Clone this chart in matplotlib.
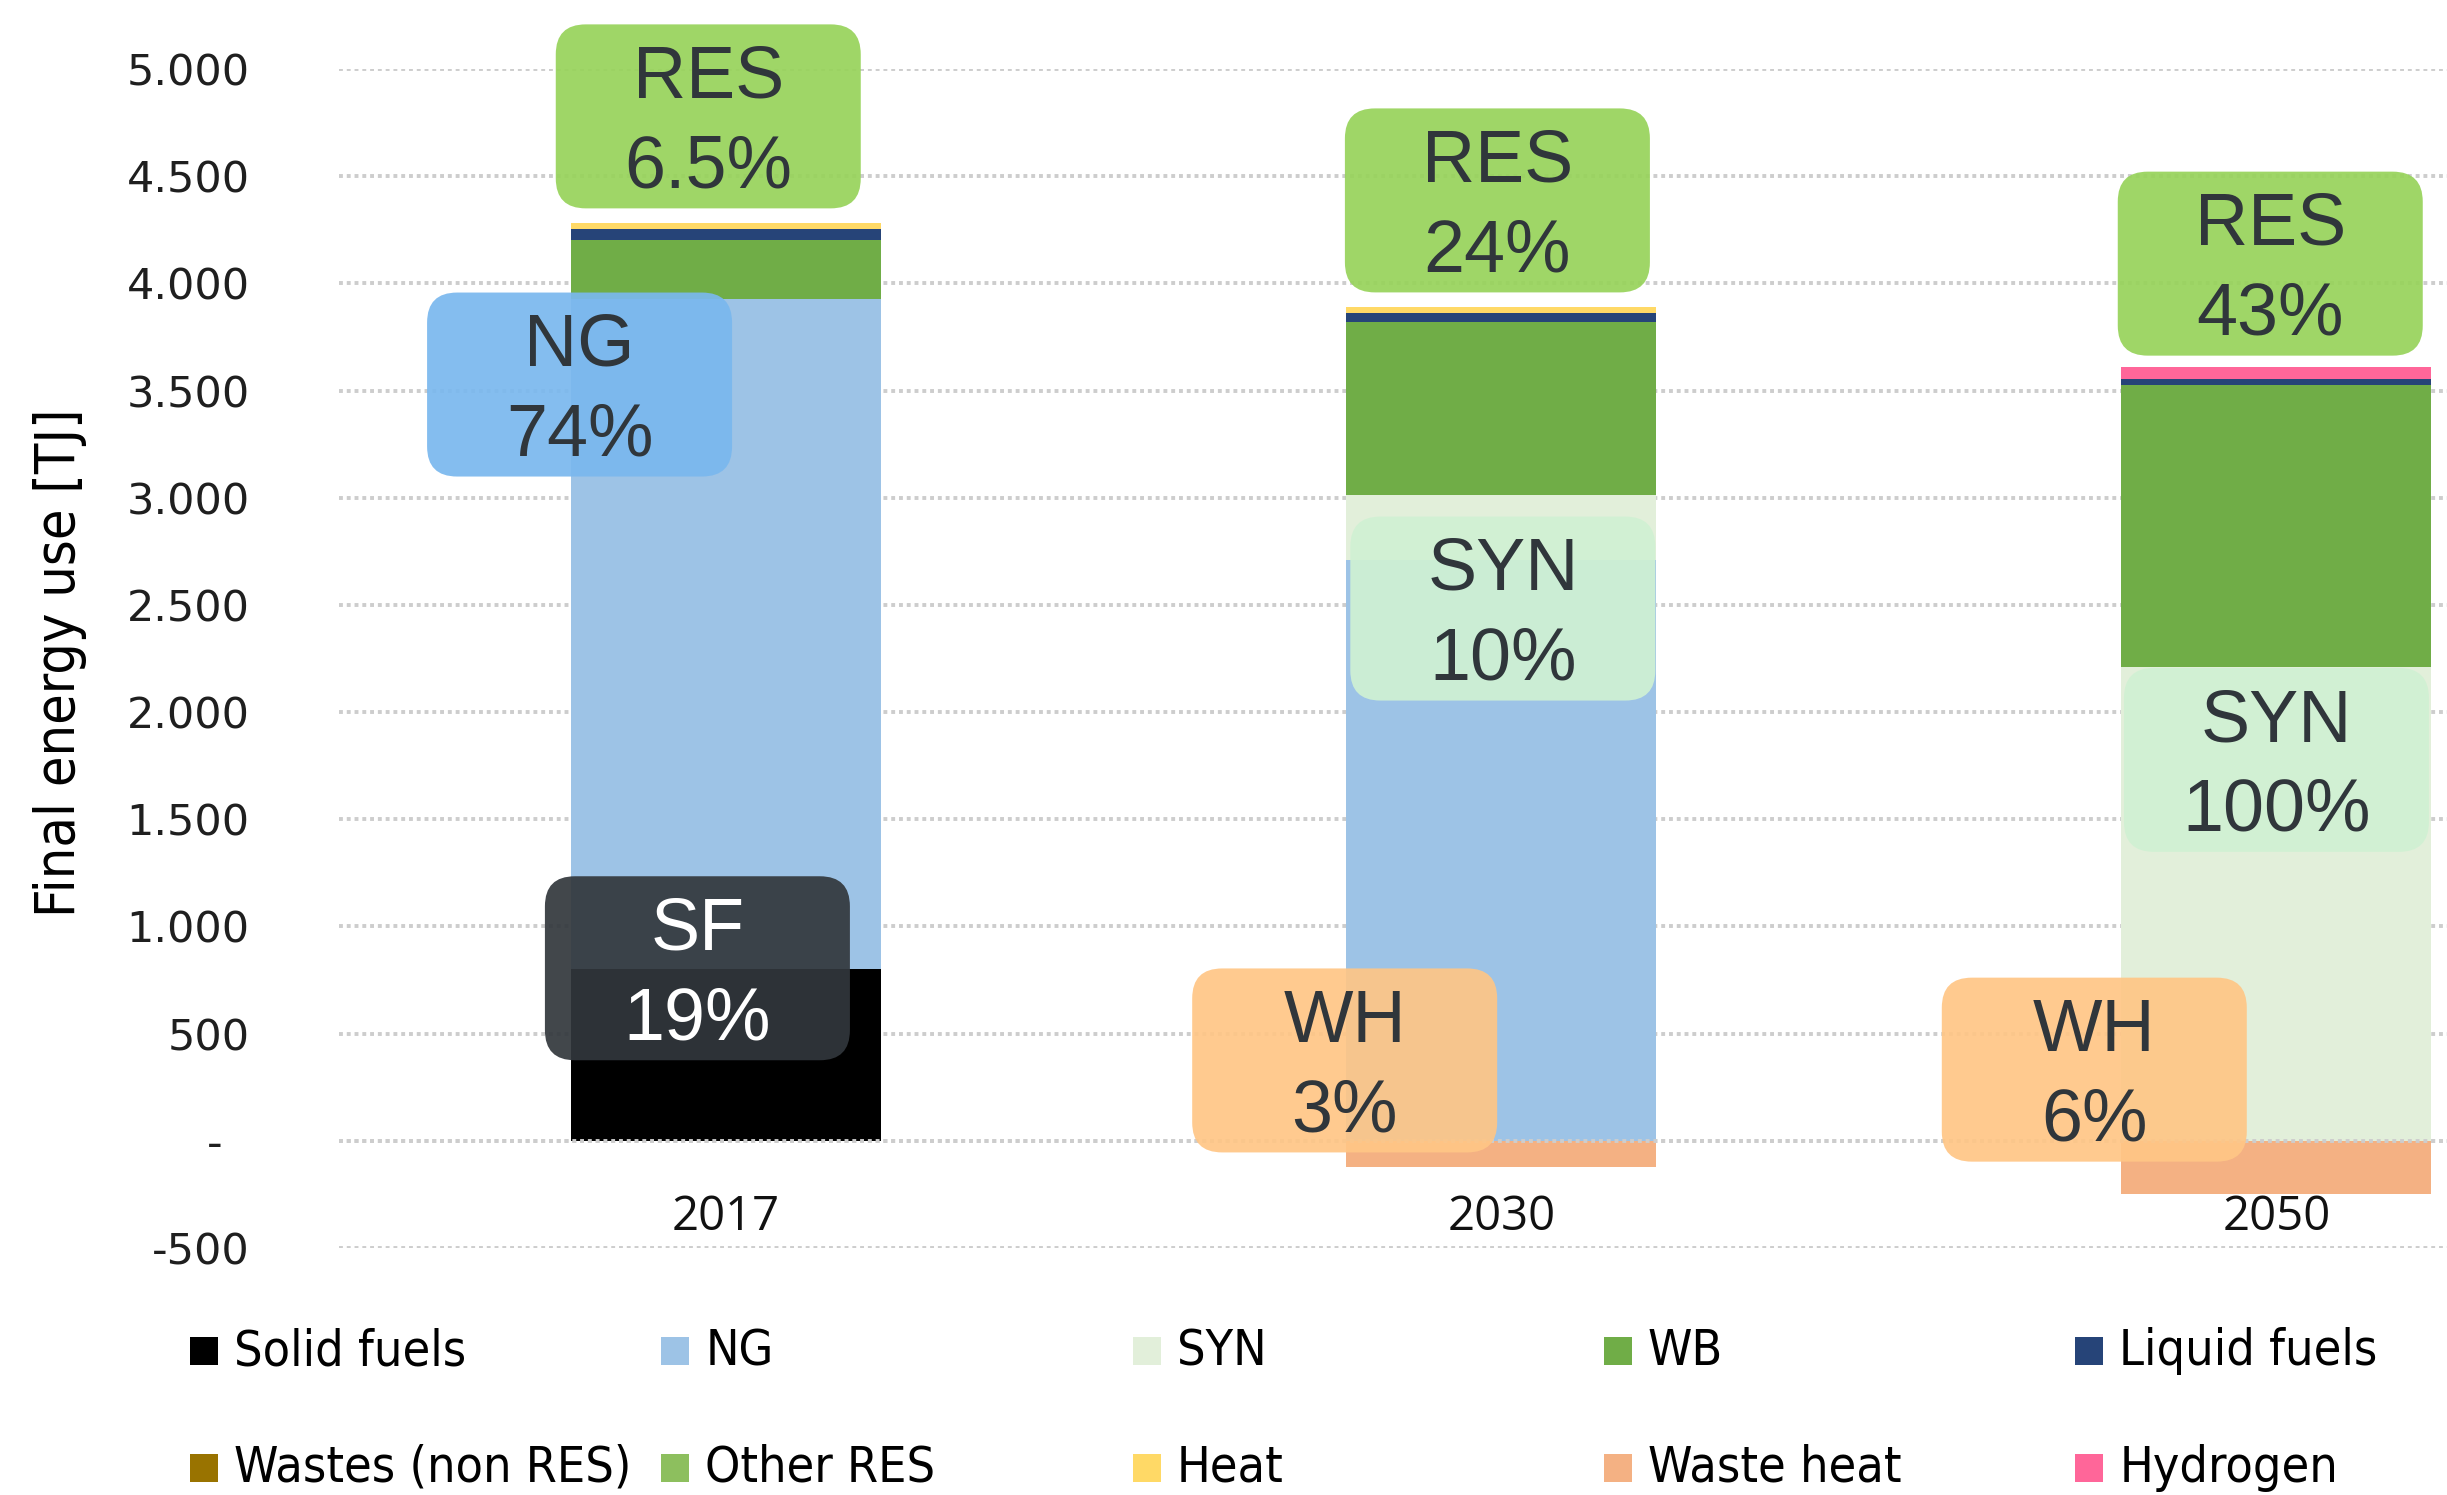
import matplotlib
matplotlib.use("Agg")
import matplotlib.pyplot as plt
from matplotlib.patches import FancyBboxPatch, Rectangle
import numpy as np

# categories
years = ["2017", "2030", "2050"]

# final energy use per carrier [TJ], stacked bottom -> top
solid_fuels = [800, 0, 0]
ng = [3127, 2711, 0]
syn = [0, 303, 2210]
wb = [275, 806, 1316]
liquid_fuels = [52, 42, 28]
wastes_non_res = [0, 0, 0]
other_res = [0, 0, 0]
heat = [28, 28, 0]
hydrogen = [0, 0, 56]
waste_heat = [0, -121, -247]   # plotted below zero

series_names = ["Solid fuels", "NG", "SYN", "WB", "Liquid fuels",
                "Wastes (non RES)", "Other RES", "Heat", "Waste heat", "Hydrogen"]
series_values = [solid_fuels, ng, syn, wb, liquid_fuels,
                 wastes_non_res, other_res, heat, waste_heat, hydrogen]
series_colors = ["#000000", "#9DC3E6", "#E2EFDA", "#70AD47", "#264478",
                 "#997300", "#8DBF5E", "#FFD966", "#F4B183", "#FF6699"]

# call-out boxes
label_names = ["RES", "NG", "SF", "RES", "SYN", "WH", "RES", "SYN", "WH"]
label_shares = ["6.5%", "74%", "19%", "24%", "10%", "3%", "43%", "100%", "6%"]
label_x = [-0.023, -0.189, -0.037, 0.995, 1.002, 0.798, 1.992, 2.0, 1.765]
label_y = [4779, 3528, 805, 4387, 2483, 375, 4092, 1777, 332]
label_fill = ["#97D35A", "#7AB8EE", "#32373C", "#97D35A", "#D0F1D3",
              "#FFC686", "#97D35A", "#D0F1D3", "#FFC686"]
label_textcolor = ["#30363B", "#30363B", "#FFFFFF", "#30363B", "#30363B",
                   "#30363B", "#30363B", "#30363B", "#30363B"]

narrow = dict(family="DejaVu Sans", stretch="condensed")

W, H, DPI = 2447, 1495, 100
fig = plt.figure(figsize=(W / DPI, H / DPI), dpi=DPI)
ax_left, ax_bottom = 338.5 / W, 1 - 1248 / H
ax_w, ax_h = 1 - ax_left, (1248 - 69) / H
ax = fig.add_axes([ax_left, ax_bottom, ax_w, ax_h])

x = np.arange(len(years))
xlim = (-0.5, 2.22)
ylim = (-500, 5000)
ax.set_xlim(*xlim)
ax.set_ylim(*ylim)

pos_bottom = np.zeros(len(years))
neg_bottom = np.zeros(len(years))
for name, vals, col in zip(series_names, series_values, series_colors):
    vals = np.array(vals, dtype=float)
    if (vals < 0).any():
        ax.bar(x, vals, 0.4, bottom=neg_bottom, color=col, zorder=2)
        neg_bottom += vals
    else:
        ax.bar(x, vals, 0.4, bottom=pos_bottom, color=col, zorder=2)
        pos_bottom += vals

# grid and axes
yt = np.arange(-500, 5001, 500)
ax.set_yticks(yt)
def fmt(v):
    if v == 0:
        return "-  "
    return f"{v:,.0f}".replace(",", ".")
ax.set_yticklabels([fmt(v) for v in yt], fontsize=31, color="#1F1F1F",
                   family="DejaVu Sans")
ax.tick_params(axis="y", length=0, pad=64)
ax.set_xticks([])
ax.grid(axis="y", color="#CDCDCD", linestyle=(0, (1, 1)), lw=2.8)
ax.set_axisbelow(True)
ax.axhline(0, color="#CDCDCD", linestyle=(0, (1, 1)), lw=2.8, zorder=2.5)
for s in ax.spines.values():
    s.set_visible(False)

for xi, yr in zip(x, years):
    ax.text(xi, -355, yr, ha="center", va="center", fontsize=34,
            family="Open Sans", color="#111111", zorder=3)

fig.text(60 / W, 1 - 663 / H, "Final energy use [TJ]", rotation=90,
         ha="center", va="center", fontsize=40, **narrow)

# call-out boxes (size given in pixels, converted to data units)
xppu = ax_w * W / (xlim[1] - xlim[0])
yppu = ax_h * H / (ylim[1] - ylim[0])
bw, bh, rad = 305 / xppu, 184 / yppu, 30 / xppu
for nm, sh, lx, ly, fc, tc in zip(label_names, label_shares, label_x, label_y,
                                  label_fill, label_textcolor):
    box = FancyBboxPatch((lx - bw / 2, ly - bh / 2), bw, bh,
                         boxstyle=f"round,pad=0,rounding_size={rad}",
                         mutation_aspect=xppu / yppu, fc=fc, ec="none",
                         alpha=0.92, zorder=4, clip_on=False)
    ax.add_patch(box)
    ax.annotate(nm, (lx, ly), xytext=(0, 13.5), textcoords="offset points",
                ha="center", va="baseline", fontsize=53, color=tc,
                family="Liberation Sans", zorder=5, annotation_clip=False)
    ax.annotate(sh, (lx, ly), xytext=(0, -51), textcoords="offset points",
                ha="center", va="baseline", fontsize=53, color=tc,
                family="Liberation Sans", zorder=5, annotation_clip=False)

# legend, two rows of five, filled row by row
col_x = [190 + 471.3 * i for i in range(5)]
row_y = [1351, 1468]
sq = 28
for i, (name, col) in enumerate(zip(series_names, series_colors)):
    cx = col_x[i % 5]
    cy = row_y[i // 5]
    fig.add_artist(Rectangle((cx / W, 1 - (cy + sq / 2) / H), sq / W, sq / H,
                             transform=fig.transFigure, fc=col, ec="none"))
    fig.text((cx + sq + 16) / W, 1 - cy / H, name, ha="left", va="center",
             fontsize=36, **narrow)

fig.savefig("out.png", dpi=DPI)
